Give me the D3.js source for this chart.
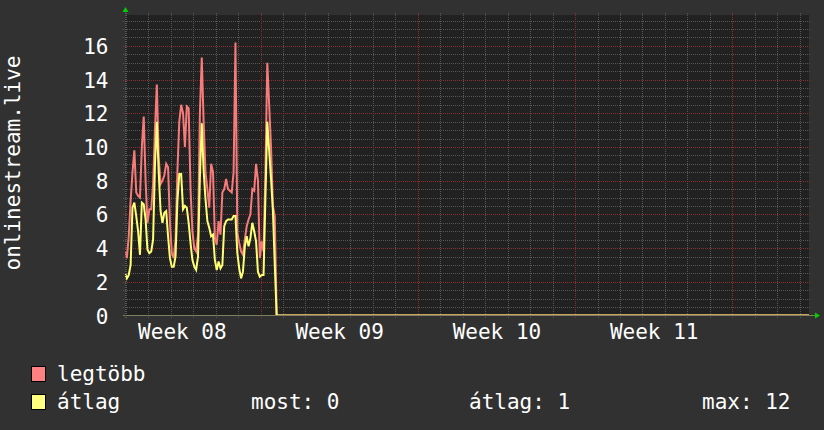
<!DOCTYPE html>
<html><head><meta charset="utf-8">
<script src="https://cdn.jsdelivr.net/npm/d3@7"></script>
<style>
html,body{margin:0;padding:0;background:#313131;}
svg{display:block;}
text{font-family:"DejaVu Sans Mono",monospace;fill:#ffffff;}
</style>
</head><body>
<svg id="chart" width="824" height="430"></svg>
<script>
// ---------------- data ----------------
const yTitle = "onlinestream.live";
const seriesNames = ["legtöbb", "átlag"];
const startTime = "2021-02-22T23:15:00Z";
const endTime = "2021-03-25T09:55:00Z";
const stepHours = 2;
// legtöbb (maximum) values, one every 2 hours from startTime
const maxValues = [3.8,3.4,4.7,6.8,8.5,9.8,7.3,7.1,7.0,10.0,11.8,8.0,5.5,6.3,6.3,7.8,11.0,13.7,9.4,7.8,
  8.0,8.3,9.0,8.8,5.5,3.7,3.4,4.5,8.6,11.5,12.5,12.0,10.0,12.4,12.3,7.5,5.0,4.0,3.8,4.8,
  12.0,15.3,11.5,8.5,7.5,6.4,9.0,8.5,4.6,4.2,5.6,4.8,7.3,7.5,8.1,7.5,7.4,7.3,8.5,16.2,
  4.9,4.3,3.8,3.6,4.5,5.3,5.7,6.0,7.5,7.4,9.0,8.0,3.4,4.4,3.8,8.5,15.0,12.5,10.0,6.5,5.9,0];
// átlag (average) values, same timestamps
const avgValues = [2.5,2.2,2.4,3.0,6.4,6.7,5.9,5.0,3.6,6.7,6.6,5.7,3.9,3.7,3.8,4.5,8.9,11.5,8.5,6.2,
  5.5,6.1,6.2,4.7,3.4,2.9,2.9,3.5,6.8,8.4,8.4,6.3,6.5,6.4,5.5,4.3,3.3,2.9,2.7,3.5,
  8.2,11.4,8.6,6.9,5.6,5.2,4.7,4.8,3.3,2.7,3.2,2.8,3.0,5.3,5.6,5.7,5.7,5.7,5.9,5.9,
  3.7,2.8,2.2,2.6,4.1,4.7,4.1,4.6,5.5,5.0,4.4,2.6,2.3,2.4,2.4,7.0,11.5,9.8,8.1,6.2,3.0,0];
const valueAfterData = 0; // both series stay at 0 until the end of the range
const yTicks = [0,2,4,6,8,10,12,14,16];
const weekStarts = ["2021-02-22","2021-03-01","2021-03-08","2021-03-15"];
const weekLabels = ["Week 08","Week 09","Week 10","Week 11"];
const statLabels = ["most:", "átlag:", "max:"];
const statValues = ["0", "1", "12"];

// ---------------- layout ----------------
const W = 824, H = 430;
const plot = {left:125, right:809, top:15, bottom:315.5};
const colors = {bg:"#313131", plot:"#212121", minor:"#565656", major:"#8a3030",
  max:"#f77b7b", avg:"#ffff73", maxBox:"#ff8080", avgBox:"#ffff80", axis:"#808060", arrow:"#00d000"};

const svg = d3.select("#chart");
const t0 = new Date(startTime), t1 = new Date(endTime);
const x = d3.scaleUtc().domain([t0, t1]).range([plot.left, plot.right]);
const y = d3.scaleLinear().domain([0, 17.83]).range([plot.bottom, plot.top]);

svg.append("rect").attr("width", W).attr("height", H).attr("fill", colors.bg);
svg.append("rect").attr("x", plot.left).attr("y", plot.top)
  .attr("width", plot.right - plot.left).attr("height", plot.bottom - plot.top)
  .attr("fill", colors.plot);

// grid
const g = svg.append("g").attr("shape-rendering", "crispEdges");
const minorY = d3.range(0, 17.83, 0.5).filter(v => v % 2 !== 0);
g.selectAll(".hminor").data(minorY).join("line")
  .attr("x1", plot.left - 2).attr("x2", plot.right + 2)
  .attr("y1", d => Math.round(y(d)) + 0.5).attr("y2", d => Math.round(y(d)) + 0.5)
  .attr("stroke", colors.minor).attr("stroke-dasharray", "1,1");
const days = d3.utcDay.range(d3.utcDay.ceil(t0), t1).filter(d => d.getUTCDay() !== 1);
g.selectAll(".vminor").data(days).join("line")
  .attr("x1", d => Math.round(x(d)) + 0.5).attr("x2", d => Math.round(x(d)) + 0.5)
  .attr("y1", plot.top - 2).attr("y2", plot.bottom + 2)
  .attr("stroke", colors.minor).attr("stroke-dasharray", "1,1");
g.selectAll(".hmajor").data(yTicks.filter(v => v > 0)).join("line")
  .attr("x1", plot.left - 2).attr("x2", plot.right + 2)
  .attr("y1", d => Math.round(y(d)) + 0.5).attr("y2", d => Math.round(y(d)) + 0.5)
  .attr("stroke", colors.major).attr("stroke-dasharray", "1,1");
const mondays = d3.utcMonday.range(t0, t1);
g.selectAll(".vmajor").data(mondays).join("line")
  .attr("x1", d => Math.round(x(d)) + 0.5).attr("x2", d => Math.round(x(d)) + 0.5)
  .attr("y1", plot.top - 2).attr("y2", plot.bottom + 2)
  .attr("stroke", colors.major).attr("stroke-dasharray", "1,1");

// series
const stepMs = stepHours * 3600 * 1000;
function toPoints(vals) {
  const pts = vals.map((v, i) => ({t: new Date(t0.getTime() + i * stepMs), v}));
  pts.push({t: t1, v: valueAfterData});
  return pts;
}
svg.append("clipPath").attr("id", "clip").append("rect")
  .attr("x", plot.left).attr("y", plot.top - 2)
  .attr("width", plot.right - plot.left + 1).attr("height", 315 - (plot.top - 2));
const line = d3.line().x(d => x(d.t)).y(d => y(d.v));
const lg = svg.append("g").attr("clip-path", "url(#clip)");
lg.append("path").datum(toPoints(maxValues)).attr("d", line)
  .attr("fill", "none").attr("stroke", colors.max).attr("stroke-width", 2)
  .attr("stroke-linejoin", "miter");
lg.append("path").datum(toPoints(avgValues)).attr("d", line)
  .attr("fill", "none").attr("stroke", colors.avg).attr("stroke-width", 2)
  .attr("stroke-linejoin", "miter");

// axes lines + arrows
svg.append("line").attr("x1", plot.left - 2).attr("x2", plot.right + 6)
  .attr("y1", 315.5).attr("y2", 315.5).attr("stroke", colors.axis).attr("stroke-width", 1)
  .attr("shape-rendering", "crispEdges");
svg.append("line").attr("x1", plot.left + 0.5).attr("x2", plot.left + 0.5)
  .attr("y1", plot.bottom + 2).attr("y2", 9).attr("stroke", "#5a5a5a").attr("stroke-width", 1)
  .attr("stroke-dasharray", "1,1").attr("shape-rendering", "crispEdges");
svg.append("path").attr("d", `M${plot.left - 2.5},12 L${plot.left + 3.5},12 L${plot.left + 0.5},7 Z`)
  .attr("fill", colors.arrow);
svg.append("path").attr("d", `M${plot.right + 6},312.5 L${plot.right + 6},318.5 L${plot.right + 11},315.5 Z`)
  .attr("fill", colors.arrow);

// y axis labels
const yAxis = d3.axisLeft(y).tickValues(yTicks).tickSize(0).tickPadding(0);
const ya = svg.append("g").attr("transform", `translate(108.5,0)`).call(yAxis);
ya.select(".domain").remove();
ya.selectAll("text").attr("font-size", "21px").attr("fill", "#fff")
  .attr("font-family", "DejaVu Sans Mono").attr("dy", "0.36em");

// x axis labels (centred in each week)
const mids = weekStarts.map(s => new Date(new Date(s + "T00:00:00Z").getTime() + 3.5 * 86400000));
const xAxis = d3.axisBottom(x).tickValues(mids).tickFormat((d, i) => weekLabels[i]).tickSize(0).tickPadding(0);
const xa = svg.append("g").attr("transform", `translate(0,339)`).call(xAxis);
xa.select(".domain").remove();
xa.selectAll("text").attr("font-size", "21px").attr("fill", "#fff")
  .attr("font-family", "DejaVu Sans Mono").attr("dy", "0");

// y title
svg.append("text").attr("transform", "translate(19.5,163) rotate(-90)")
  .attr("text-anchor", "middle").attr("font-size", "21px").text(yTitle);

// legend
const legendRows = [
  {name: seriesNames[0], color: colors.maxBox, y: 381},
  {name: seriesNames[1], color: colors.avgBox, y: 409}
];
legendRows.forEach(r => {
  svg.append("rect").attr("x", 31.5).attr("y", r.y - 14.5).attr("width", 14).attr("height", 15)
    .attr("fill", r.color).attr("stroke", "#000").attr("stroke-width", 1);
  svg.append("text").attr("x", 57).attr("y", r.y).attr("font-size", "21px").text(r.name);
});
const statX = [251, 469, 702];
statLabels.forEach((s, i) => {
  svg.append("text").attr("x", statX[i]).attr("y", 409).attr("font-size", "21px")
    .text(s + " " + statValues[i]);
});
</script>
</body></html>
